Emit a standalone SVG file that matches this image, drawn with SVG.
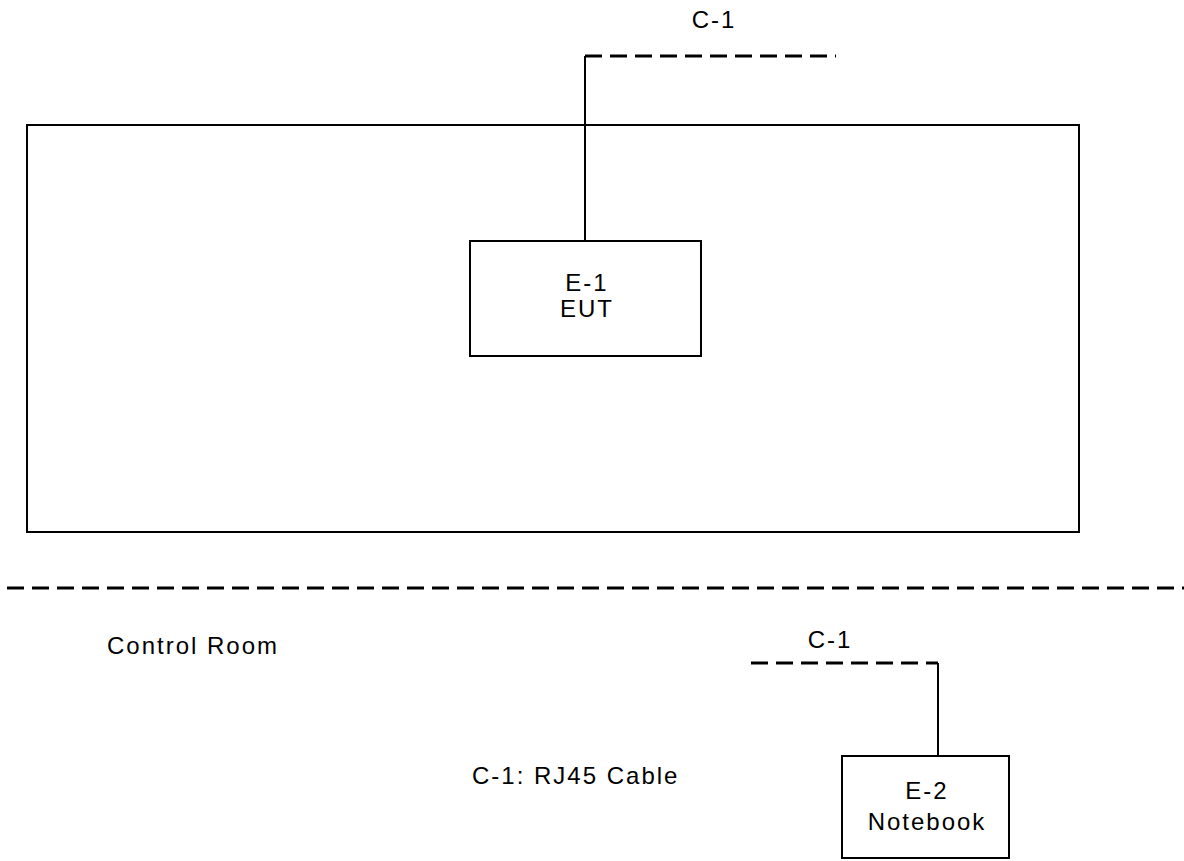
<svg xmlns="http://www.w3.org/2000/svg" width="1184" height="861" viewBox="0 0 1184 861">
<style>
.box{fill:#fff;stroke:#000;stroke-width:2}
.solid{fill:none;stroke:#000;stroke-width:2}
.dash{fill:none;stroke:#000;stroke-width:3;stroke-dasharray:17 8}
text{font-family:"Liberation Sans",Arial,sans-serif;font-size:24px;letter-spacing:2px;fill:#000}
.c{text-anchor:middle}
</style>
<rect width="1184" height="861" fill="#fff"/>
<g id="room">
<rect class="box" x="27" y="125" width="1052" height="407" fill="none"/>
</g>
<g id="connectors">
<path class="solid" d="M585 56 V241"/>
<path class="dash" d="M585 56 H836"/>
<path class="dash" d="M7 588 H1184"/>
<path class="dash" d="M751 663 H938"/>
<path class="solid" d="M938 663 V756"/>
</g>
<g id="E-1">
<rect class="box" x="470" y="241" width="231" height="115"/>
<text class="c" x="587" y="291">E-1</text>
<text class="c" x="587" y="317">EUT</text>
</g>
<g id="E-2">
<rect class="box" x="842" y="756" width="167" height="102"/>
<text class="c" x="927" y="799">E-2</text>
<text class="c" x="927" y="830">Notebook</text>
</g>
<g id="labels">
<text class="c" x="714" y="28">C-1</text>
<text class="c" x="830" y="648">C-1</text>
<text x="107" y="654">Control Room</text>
<text x="472" y="784">C-1: RJ45 Cable</text>
</g>
</svg>
